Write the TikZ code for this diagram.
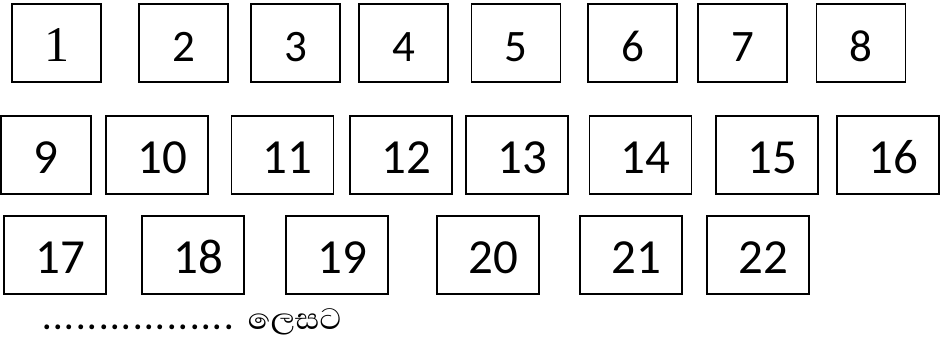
\documentclass[tikz,border=0pt]{standalone}
\usepackage{fontspec}
\setmainfont{Carlito}
\newfontfamily\serifnum{Liberation Serif}
\newfontfamily\sinhalafont[Script=Sinhala]{Abhaya Libre}
\usetikzlibrary{positioning}
% numbers typed after a leading space
\newcommand\lnum[1]{\hspace{10pt}#1}
\tikzset{
  box/.style={draw, line width=1.1pt, minimum width=102pt, minimum height=78pt, inner sep=0pt,
    font=\fontsize{49}{50}\selectfont, text height=36pt, text depth=0pt},
  smallbox/.style={box, minimum width=89pt, font=\fontsize{45}{46}\selectfont, text height=37pt},
  lbl/.style={inner sep=0pt, anchor=base west, text depth=0pt}
}
\begin{document}
\begin{tikzpicture}[x=1pt, y=-1pt]
    \useasboundingbox (0,0) rectangle (940,338);
    % first row
    \node[smallbox, text height=36pt] (b1) at (56.5,43) {\serifnum\fontsize{50}{52}\selectfont 1\hspace{24pt}};
    \node[smallbox] (b2) at (183.5,43) {2};
    \node[smallbox] (b3) at (295.5,43) {3};
    \node[smallbox] (b4) at (403.5,43) {4};
    \node[smallbox] (b5) at (516,43) {5};
    \node[smallbox] (b6) at (632.5,43) {6};
    \node[smallbox] (b7) at (742.5,43) {7\hspace{24pt}};
    \node[smallbox] (b8) at (861,43) {8};
    % second row
    \node[box, minimum width=90pt] (b9) at (46,155) {9};
    \node[box] (b10) at (157,155) {\lnum{10}};
    \node[box] (b11) at (282.5,155) {\lnum{11}};
    \node[box] (b12) at (401,155) {\lnum{12}};
    \node[box] (b13) at (517,155) {\lnum{13}};
    \node[box] (b14) at (640.5,155) {\lnum{14}};
    \node[box] (b15) at (767,155) {\lnum{15}};
    \node[box] (b16) at (888,155) {\lnum{16}};
    % third row
    \node[box] (b17) at (55,255) {\lnum{17}};
    \node[box] (b18) at (193,255) {\lnum{18}};
    \node[box] (b19) at (337,255) {\lnum{19}};
    \node[box] (b20) at (488,255) {\lnum{20}};
    \node[box] (b21) at (631,255) {\lnum{21}};
    \node[box] (b22) at (758,255) {\lnum{22}};
    \node[lbl, font=\sinhalafont\fontsize{48}{50}\selectfont] (note) at (42,329)
      {{\addfontfeature{LetterSpace=4}.................}\hspace{14pt}{\fontsize{38}{40}\selectfont ලෙසට}};
\end{tikzpicture}
\end{document}
